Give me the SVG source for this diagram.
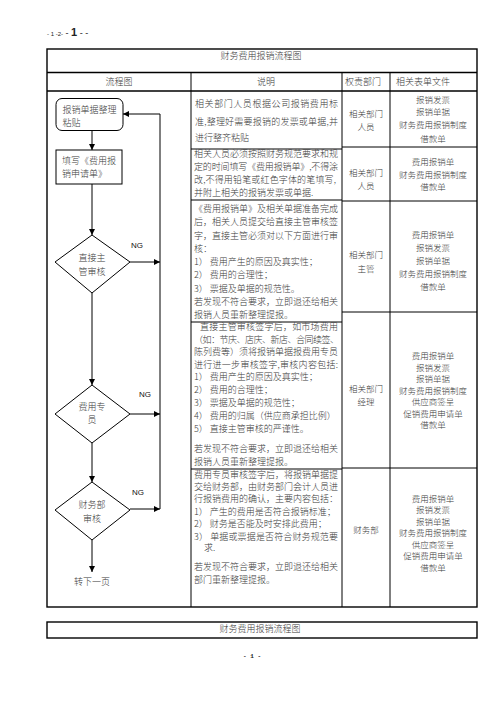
<svg xmlns="http://www.w3.org/2000/svg" width="496" height="702" viewBox="0 0 496 702">
<style>
text{font-family:"Noto Sans CJK SC","Noto Sans",sans-serif;fill:#3a3a3a;font-size:9px;font-weight:300}
.c{text-anchor:middle}
.s{font-size:8.5px}
.ng{font-family:"Liberation Sans",Arial,sans-serif;font-size:8px;fill:#111;font-weight:normal}
.tb{fill:none;stroke:#000;stroke-width:1}
.ob{fill:none;stroke:#000;stroke-width:1.4}
.fl{fill:none;stroke:#000;stroke-width:1}
.nd{fill:#fff;stroke:#000;stroke-width:1}
</style>
<defs>
<marker id="ah" markerUnits="userSpaceOnUse" markerWidth="6" markerHeight="6" refX="6" refY="3" orient="auto">
<path d="M0,0 L6,3 L0,6 z" fill="#000"/>
</marker>
</defs>
<rect width="496" height="702" fill="#fff"/>
<!-- page header -->
<text x="47" y="36" style="font-family:'Liberation Sans',Arial,sans-serif;font-size:6px;fill:#222;font-weight:normal">- 1 -2-<tspan font-size="9"> - </tspan><tspan font-size="11" font-weight="bold">1</tspan><tspan font-size="9"> - -</tspan></text>
<!-- table -->
<g id="table">
<rect class="ob" x="47" y="49" width="430" height="558"/>
<line class="ob" x1="47" y1="72.5" x2="477" y2="72.5"/>
<line class="ob" x1="47" y1="91" x2="477" y2="91"/>
<line class="tb" x1="191" y1="72.5" x2="191" y2="607"/>
<line class="tb" x1="342" y1="72.5" x2="342" y2="607"/>
<line class="tb" x1="390" y1="72.5" x2="390" y2="607"/>
<line class="tb" x1="191" y1="149" x2="342" y2="149"/>
<line class="tb" x1="191" y1="200" x2="342" y2="200"/>
<line class="tb" x1="191" y1="322" x2="342" y2="322"/>
<line class="tb" x1="191" y1="469" x2="342" y2="469"/>
<line class="tb" x1="342" y1="147" x2="477" y2="147"/>
<line class="tb" x1="342" y1="201" x2="477" y2="201"/>
<line class="tb" x1="342" y1="312" x2="477" y2="312"/>
<line class="tb" x1="342" y1="468" x2="477" y2="468"/>
<text class="c" x="261" y="59" font-size="10">财务费用报销流程图</text>
<text class="c" x="119" y="85">流程图</text>
<text class="c" x="266" y="85">说明</text>
<text class="c" x="363" y="85">权责部门</text>
<text class="c" x="423" y="85">相关表单文件</text>
</g>
<!-- connectors -->
<g id="connectors">
<line class="fl" x1="92" y1="131" x2="92" y2="150" marker-end="url(#ah)"/>
<line class="fl" x1="92" y1="184" x2="92" y2="235" marker-end="url(#ah)"/>
<line class="fl" x1="92" y1="293" x2="92" y2="385" marker-end="url(#ah)"/>
<line class="fl" x1="92" y1="443" x2="92" y2="482" marker-end="url(#ah)"/>
<line class="fl" x1="92" y1="540" x2="92" y2="572" marker-end="url(#ah)"/>
<line class="fl" x1="130" y1="262" x2="160" y2="262" marker-end="url(#ah)"/>
<line class="fl" x1="130" y1="414" x2="160" y2="414" marker-end="url(#ah)"/>
<line class="fl" x1="130" y1="509" x2="160" y2="509" marker-end="url(#ah)"/>
<polyline class="fl" points="160,509 160,114 123,114" marker-end="url(#ah)"/>
<text class="ng" x="131" y="248">NG</text>
<text class="ng" x="139" y="397">NG</text>
<text class="ng" x="132" y="495">NG</text>
</g>
<!-- nodes -->
<g id="n1">
<rect class="nd" x="56" y="98.5" width="67" height="32" rx="6"/>
<text x="62.5" y="113">报销单据整理</text>
<text x="62.5" y="125.5">粘贴</text>
</g>
<g id="n2">
<rect class="nd" x="56" y="150" width="66" height="34"/>
<text x="62" y="164">填写《费用报</text>
<text x="62" y="176.5">销申请单》</text>
</g>
<g id="n3">
<polygon class="nd" points="92,235 130,262 92,293 55,262"/>
<text class="c" x="92" y="261">直接主</text>
<text class="c" x="92" y="275">管审核</text>
</g>
<g id="n4">
<polygon class="nd" points="92,385 130,414 92,443 55,414"/>
<text class="c" x="92" y="410">费用专</text>
<text class="c" x="92" y="422.5">员</text>
</g>
<g id="n5">
<polygon class="nd" points="92,482 130,510 92,540 55,510"/>
<text class="c" x="92" y="508">财务部</text>
<text class="c" x="92" y="521.5">审核</text>
</g>
<g id="n6">
<text class="c" x="92" y="585">转下一页</text>
</g>
<!-- descriptions -->
<g id="desc1">
<text x="195" y="107" textLength="143" lengthAdjust="spacing">相关部门人员根据公司报销费用标</text>
<text x="195" y="125" textLength="143" lengthAdjust="spacing">准,整理好需要报销的发票或单据,并</text>
<text x="195" y="141">进行整齐粘贴</text>
</g>
<g id="desc2">
<text x="194" y="157" textLength="144" lengthAdjust="spacing">相关人员必须按照财务规范要求和规</text>
<text x="194" y="170" textLength="144" lengthAdjust="spacing">定的时间填写《费用报销单》,不得涂</text>
<text x="194" y="183" textLength="142" lengthAdjust="spacing">改,不得用铅笔或红色字体的笔填写,</text>
<text x="194" y="196">并附上相关的报销发票或单据.</text>
</g>
<g id="desc3">
<text x="194" y="212" textLength="144" lengthAdjust="spacing">《费用报销单》及相关单据准备完成</text>
<text x="194" y="225.3" textLength="144" lengthAdjust="spacing">后，相关人员提交给直接主管审核签</text>
<text x="194" y="238.5" textLength="144" lengthAdjust="spacing">字，直接主管必须对以下方面进行审</text>
<text x="194" y="251.8">核：</text>
<text x="194" y="265">1） 费用产生的原因及真实性；</text>
<text x="194" y="278.3">2） 费用的合理性；</text>
<text x="194" y="291.5">3） 票据及单据的规范性。</text>
<text x="194" y="304.8" textLength="144" lengthAdjust="spacing">若发现不符合要求，立即退还给相关</text>
<text x="194" y="318">报销人员重新整理提报。</text>
</g>
<g id="desc4">
<text x="200" y="330" textLength="138" lengthAdjust="spacing">直接主管审核签字后，如市场费用</text>
<text x="194" y="342.5" textLength="145" lengthAdjust="spacing">（如：节庆、店庆、新店、合同续签、</text>
<text x="194" y="355" textLength="144" lengthAdjust="spacing">陈列费等）须将报销单据报费用专员</text>
<text x="194" y="367.5" textLength="144" lengthAdjust="spacing">进行进一步审核签字,审核内容包括:</text>
<text x="194" y="380">1） 费用产生的原因及真实性；</text>
<text x="194" y="393">2） 费用的合理性；</text>
<text x="194" y="406">3） 票据及单据的规范性；</text>
<text x="194" y="419">4） 费用的归属（供应商承担比例）</text>
<text x="194" y="432">5） 直接主管审核的严谨性。</text>
<text x="194" y="452" textLength="144" lengthAdjust="spacing">若发现不符合要求，立即退还给相关</text>
<text x="194" y="465">报销人员重新整理提报。</text>
</g>
<g id="desc5">
<text x="194" y="478" textLength="144" lengthAdjust="spacing">费用专员审核签字后，将报销单据提</text>
<text x="194" y="490" textLength="144" lengthAdjust="spacing">交给财务部，由财务部门会计人员进</text>
<text x="194" y="501.5" textLength="144" lengthAdjust="spacing">行报销费用的确认，主要内容包括：</text>
<text x="194" y="514.5">1） 产生的费用是否符合报销标准；</text>
<text x="194" y="526.5">2） 财务是否能及时安排此费用；</text>
<text x="194" y="539.5" textLength="144" lengthAdjust="spacing">3） 单据或票据是否符合财务规范要</text>
<text x="204" y="551">求.</text>
<text x="194" y="570" textLength="144" lengthAdjust="spacing">若发现不符合要求，立即退还给相关</text>
<text x="194" y="582.5">部门重新整理提报。</text>
</g>
<!-- responsible departments -->
<g id="dept">
<text class="c s" x="366" y="116.5">相关部门</text>
<text class="c s" x="366" y="129.5">人员</text>
<text class="c s" x="366" y="176">相关部门</text>
<text class="c s" x="366" y="189">人员</text>
<text class="c s" x="366" y="258">相关部门</text>
<text class="c s" x="366" y="272">主管</text>
<text class="c s" x="366" y="392">相关部门</text>
<text class="c s" x="366" y="405">经理</text>
<text class="c s" x="366" y="532.5">财务部</text>
</g>
<!-- related forms -->
<g id="forms">
<text class="c s" x="433" y="103">报销发票</text>
<text class="c s" x="433" y="115">报销单据</text>
<text class="c s" x="433" y="128">财务费用报销制度</text>
<text class="c s" x="433" y="141.5">借款单</text>
<text class="c s" x="433" y="164.5">费用报销单</text>
<text class="c s" x="433" y="177.5">财务费用报销制度</text>
<text class="c s" x="433" y="190">借款单</text>
<text class="c s" x="433" y="238">费用报销单</text>
<text class="c s" x="433" y="251">报销发票</text>
<text class="c s" x="433" y="263.5">报销单据</text>
<text class="c s" x="433" y="277">财务费用报销制度</text>
<text class="c s" x="433" y="289.5">借款单</text>
<text class="c s" x="433" y="359">费用报销单</text>
<text class="c s" x="433" y="370.5">报销发票</text>
<text class="c s" x="433" y="382">报销单据</text>
<text class="c s" x="433" y="393.5">财务费用报销制度</text>
<text class="c s" x="433" y="405">供应商签呈</text>
<text class="c s" x="433" y="416.5">促销费用申请单</text>
<text class="c s" x="433" y="428">借款单</text>
<text class="c s" x="433" y="501.5">费用报销单</text>
<text class="c s" x="433" y="513">报销发票</text>
<text class="c s" x="433" y="524.5">报销单据</text>
<text class="c s" x="433" y="536">财务费用报销制度</text>
<text class="c s" x="433" y="547.5">供应商签呈</text>
<text class="c s" x="433" y="559">促销费用申请单</text>
<text class="c s" x="433" y="570.5">借款单</text>
</g>
<!-- footer -->
<g id="footer">
<rect class="ob" x="47" y="622" width="430" height="16"/>
<text class="c" x="260" y="631.5" font-size="8.5">财务费用报销流程图</text>
<text class="c" x="252" y="658" style="font-family:'Liberation Mono',monospace;font-size:6px;font-weight:bold;fill:#222">- 1 -</text>
</g>
</svg>
